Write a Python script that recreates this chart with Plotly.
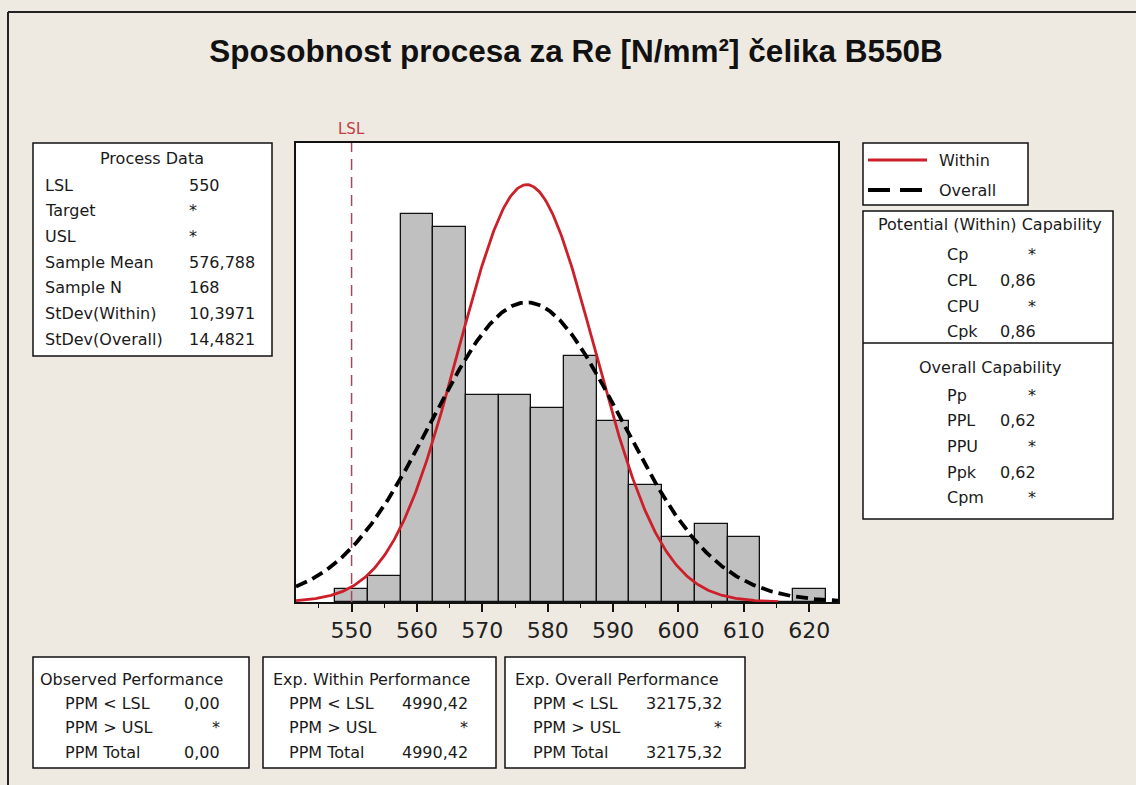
import numpy as np
import plotly.graph_objects as go

# ---------------- data ----------------
bin_centers = [550, 555, 560, 565, 570, 575, 580, 585, 590, 595, 600, 605, 610, 615, 620]
bin_counts = [1, 2, 30, 29, 16, 16, 15, 19, 14, 9, 5, 6, 5, 0, 1]
bin_width = 5
LSL = 550
sample_mean = 576.788
sample_n = 168
stdev_within = 10.3971
stdev_overall = 14.4821
x_ticks = [550, 560, 570, 580, 590, 600, 610, 620]
x_range = [541.5, 624.4]
y_range = [0, 35.45]

title_text = "Sposobnost procesa za Re [N/mm²] čelika B550B"
process_labels = ["LSL", "Target", "USL", "Sample Mean", "Sample N", "StDev(Within)", "StDev(Overall)"]
process_values = ["550", "*", "*", "576,788", "168", "10,3971", "14,4821"]
within_labels = ["Cp", "CPL", "CPU", "Cpk"]
within_values = ["*", "0,86", "*", "0,86"]
overall_labels = ["Pp", "PPL", "PPU", "Ppk", "Cpm"]
overall_values = ["*", "0,62", "*", "0,62", "*"]
perf_row_labels = ["PPM < LSL", "PPM > USL", "PPM Total"]
observed_values = ["0,00", "*", "0,00"]
exp_within_values = ["4990,42", "*", "4990,42"]
exp_overall_values = ["32175,32", "*", "32175,32"]

# ---------------- styling / layout geometry ----------------
FIG_W, FIG_H = 1136, 785
L, R, T, B = 296, 838, 143, 602
BG = "#EEEAE1"
TXT = "#1a1a1a"
RED = "#CC1F2A"
BODY_FONT = "DejaVu Sans"
BODY_SIZE = 16


def px(x):
    return (x - L) / (R - L)


def py(y):
    return (B - y) / (B - T)


def normal_curve(sigma):
    lo = max(x_range[0], sample_mean - 3.7 * sigma)
    hi = min(x_range[1], sample_mean + 3.7 * sigma)
    xs = np.linspace(lo, hi, 400)
    ys = sample_n * bin_width * np.exp(-0.5 * ((xs - sample_mean) / sigma) ** 2) / (sigma * np.sqrt(2 * np.pi))
    return xs, ys


fig = go.Figure()

fig.add_trace(go.Bar(
    x=bin_centers, y=bin_counts, width=[bin_width] * len(bin_centers),
    marker=dict(color="#C0C0C0", line=dict(color="#111111", width=1.3)),
    showlegend=False, hoverinfo="x+y",
))

xw, yw = normal_curve(stdev_within)
fig.add_trace(go.Scatter(x=xw, y=yw, mode="lines", name="Within",
                         line=dict(color=RED, width=2.8), showlegend=False))
xo, yo = normal_curve(stdev_overall)
fig.add_trace(go.Scatter(x=xo, y=yo, mode="lines", name="Overall",
                         line=dict(color="#000000", width=3.8, dash="12px,6px"), showlegend=False))

shapes = []
annotations = []


def box(x0, y0, x1, y1):
    shapes.append(dict(type="rect", xref="paper", yref="paper",
                       x0=px(x0), x1=px(x1), y0=py(y1), y1=py(y0),
                       fillcolor="white", line=dict(color="#111111", width=1.5), layer="below"))


def text(x, y, s, anchor="left", size=BODY_SIZE, color=TXT, family=BODY_FONT):
    annotations.append(dict(xref="paper", yref="paper", x=px(x), y=py(y), text=s,
                            showarrow=False, xanchor=anchor, yanchor="middle",
                            font=dict(family=family, size=size, color=color)))


# outer frame (top and left edges only)
shapes.append(dict(type="line", xref="paper", yref="paper", x0=px(8), x1=px(FIG_W + 5),
                   y0=py(12), y1=py(12), line=dict(color="#222222", width=2)))
shapes.append(dict(type="line", xref="paper", yref="paper", x0=px(8), x1=px(8),
                   y0=py(12), y1=py(FIG_H + 5), line=dict(color="#222222", width=2)))

# LSL reference line
shapes.append(dict(type="line", xref="x", yref="paper", x0=LSL, x1=LSL, y0=0, y1=1,
                   line=dict(color="#A04A5C", width=1.5, dash="11px,7px")))
annotations.append(dict(xref="x", yref="paper", x=LSL, y=py(129), text="LSL", showarrow=False,
                        xanchor="center", yanchor="middle",
                        font=dict(family=BODY_FONT, size=15, color="#C23B45")))

# Process Data box
box(33, 143, 272, 356)
text(152, 158, "Process Data", anchor="center")
for i, (lab, val) in enumerate(zip(process_labels, process_values)):
    yy = 185 + i * 25.7
    text(43, yy, lab)
    text(187, yy, val)

# legend box
box(863, 143, 1028, 205)
shapes.append(dict(type="line", xref="paper", yref="paper", x0=px(868), x1=px(927),
                   y0=py(160), y1=py(160), line=dict(color=RED, width=2.8)))
shapes.append(dict(type="line", xref="paper", yref="paper", x0=px(868), x1=px(927),
                   y0=py(190), y1=py(190), line=dict(color="#000000", width=3.8, dash="22px,10px")))
text(937, 160, "Within")
text(937, 190, "Overall")

# capability box
box(863, 211, 1113, 519)
shapes.append(dict(type="line", xref="paper", yref="paper", x0=px(863), x1=px(1113),
                   y0=py(343), y1=py(343), line=dict(color="#111111", width=1.5)))
text(990, 224, "Potential (Within) Capability", anchor="center")
for i, (lab, val) in enumerate(zip(within_labels, within_values)):
    yy = 255 + i * 25.5
    text(945, yy, lab)
    text(1038, yy, val, anchor="right")
text(990, 367, "Overall Capability", anchor="center")
for i, (lab, val) in enumerate(zip(overall_labels, overall_values)):
    yy = 395 + i * 25.7
    text(945, yy, lab)
    text(1038, yy, val, anchor="right")

# performance boxes
perf_boxes = [
    (33, 249, "Observed Performance", observed_values, 38, 63, 222),
    (263, 496, "Exp. Within Performance", exp_within_values, 271, 287, 470),
    (505, 745, "Exp. Overall Performance", exp_overall_values, 513, 531, 724),
]
for x0, x1, head, vals, hx, lx, vx in perf_boxes:
    box(x0, 657, x1, 768)
    text(hx, 679, head)
    for i, (lab, val) in enumerate(zip(perf_row_labels, vals)):
        yy = 703 + i * 24.5
        text(lx, yy, lab)
        text(vx, yy, val, anchor="right")

fig.update_layout(
    width=FIG_W, height=FIG_H,
    margin=dict(l=L, r=FIG_W - R, t=T, b=FIG_H - B, pad=0),
    paper_bgcolor=BG, plot_bgcolor="white",
    bargap=0,
    title=dict(text="<b>" + title_text + "</b>", x=576 / FIG_W, xanchor="center",
               y=1 - 51 / FIG_H, yanchor="middle", xref="container", yref="container",
               font=dict(family="Liberation Sans", size=31.5, color="#111111")),
    shapes=shapes, annotations=annotations,
    showlegend=False,
    xaxis=dict(range=x_range, tickvals=x_ticks, ticks="outside", ticklen=8, tickwidth=1.5,
               tickcolor="#111111", showline=True, linecolor="#111111", linewidth=1.5, mirror=True,
               showgrid=False, zeroline=False,
               tickfont=dict(family=BODY_FONT, size=22, color="#222222"),
               minor=dict(dtick=5, tick0=545, ticks="outside", ticklen=4, tickwidth=1.3,
                          tickcolor="#111111", showgrid=False)),
    yaxis=dict(range=y_range, showticklabels=False, ticks="", showgrid=False, zeroline=False,
               showline=True, linecolor="#111111", linewidth=1.5, mirror=True),
)

fig.write_html("out.html", config={"displayModeBar": False},
               post_script="document.body.style.margin='0';document.body.style.overflow='hidden';")
